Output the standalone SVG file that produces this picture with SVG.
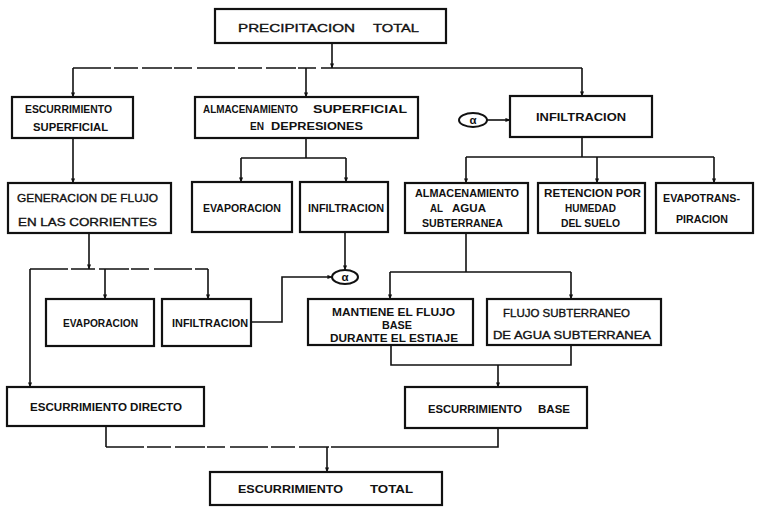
<svg xmlns="http://www.w3.org/2000/svg" width="766" height="507" viewBox="0 0 766 507">
<defs>
<style>
.bx{fill:#fff;stroke:#111;stroke-width:2.2}
.c{fill:none;stroke:#111;stroke-width:1.6}
.d{fill:none;stroke:#111;stroke-width:1.6;stroke-dasharray:38 3 24 4 30 2 18 5}
.a{marker-end:url(#ah)}
.t{font-family:"Liberation Sans",Arial,sans-serif;font-weight:bold;font-size:11.5px;fill:#111}
.n{font-weight:normal;stroke:#111;stroke-width:0.35}
.al{fill:#fff;stroke:#111;stroke-width:2}
</style>
<marker id="ah" viewBox="0 0 6 6" refX="5.5" refY="3" markerWidth="5" markerHeight="5" orient="auto" markerUnits="userSpaceOnUse">
<path d="M0,0.5 L6,3 L0,5.5 Z" fill="#111"/>
</marker>
</defs>
<rect width="766" height="507" fill="#fff"/>

<g id="connectors">
<path class="c a" d="M332,43 V68"/>
<path class="d" d="M73,68 H330"/>
<path class="c" d="M330,68 H582"/>
<path class="c a" d="M73,68 V97"/>
<path class="c a" d="M306,68 V97"/>
<path class="c a" d="M582,68 V96"/>
<path class="c a" d="M487,120 H510"/>
<path class="c a" d="M73,138 V183"/>
<path class="c" d="M306,138 V158 M241,158 H346"/>
<path class="c a" d="M241,158 V182"/>
<path class="c a" d="M346,158 V182"/>
<path class="c" d="M582,137 V157 M466,157 H714"/>
<path class="c a" d="M466,157 V183"/>
<path class="c a" d="M597,157 V183"/>
<path class="c a" d="M714,157 V183"/>
<path class="c a" d="M89,233 V269"/>
<path class="d" d="M30,269 H208"/>
<path class="c a" d="M30,269 V387"/>
<path class="c a" d="M105,269 V299"/>
<path class="c a" d="M208,269 V299"/>
<path class="c a" d="M345,232 V270"/>
<path class="c a" d="M251,322 H282 V277 H332"/>
<path class="c" d="M466,233 V272 M390,272 H571"/>
<path class="c a" d="M390,272 V299"/>
<path class="c a" d="M571,272 V299"/>
<path class="c" d="M391,345 V365 H571 V345"/>
<path class="c a" d="M498,365 V387"/>
<path class="c" d="M498,428 V447 H340"/>
<path class="d" d="M106,447 H340"/>
<path class="c" d="M106,426 V447"/>
<path class="c a" d="M327,447 V472"/>
</g>

<g id="precipitacion-total">
<rect class="bx" x="215" y="9" width="231" height="34"/>
<text class="t n" x="238" y="32" font-size="15" textLength="117" lengthAdjust="spacingAndGlyphs">PRECIPITACION</text>
<text class="t n" x="373" y="32" font-size="15" textLength="46" lengthAdjust="spacingAndGlyphs">TOTAL</text>
</g>

<g id="escurrimiento-superficial">
<rect class="bx" x="12" y="97" width="121" height="41"/>
<text class="t" x="25" y="113" textLength="87" lengthAdjust="spacingAndGlyphs">ESCURRIMIENTO</text>
<text class="t" x="33" y="131" textLength="75" lengthAdjust="spacingAndGlyphs">SUPERFICIAL</text>
</g>

<g id="almacenamiento-superficial">
<rect class="bx" x="195" y="97" width="223" height="41"/>
<text class="t" x="203" y="113" textLength="95" lengthAdjust="spacingAndGlyphs">ALMACENAMIENTO</text>
<text class="t" x="313" y="113" textLength="94" lengthAdjust="spacingAndGlyphs">SUPERFICIAL</text>
<text class="t" x="250" y="130" textLength="14" lengthAdjust="spacingAndGlyphs">EN</text>
<text class="t" x="271" y="130" textLength="92" lengthAdjust="spacingAndGlyphs">DEPRESIONES</text>
</g>

<g id="infiltracion-total">
<rect class="bx" x="510" y="96" width="142" height="41"/>
<text class="t" x="536" y="121" textLength="90" lengthAdjust="spacingAndGlyphs">INFILTRACION</text>
</g>

<g id="alfa-1">
<ellipse class="al" cx="473" cy="120" rx="14" ry="7"/>
<text class="t" x="473" y="124" text-anchor="middle" font-size="12">α</text>
</g>

<g id="generacion-flujo">
<rect class="bx" x="8" y="183" width="163" height="50"/>
<text class="t n" x="17" y="202" font-size="12.5" textLength="141" lengthAdjust="spacingAndGlyphs">GENERACION DE FLUJO</text>
<text class="t n" x="18" y="226" font-size="12.5" textLength="139" lengthAdjust="spacingAndGlyphs">EN LAS CORRIENTES</text>
</g>

<g id="evaporacion-1">
<rect class="bx" x="192" y="182" width="100" height="50"/>
<text class="t" x="203" y="212" textLength="78" lengthAdjust="spacingAndGlyphs">EVAPORACION</text>
</g>

<g id="infiltracion-1">
<rect class="bx" x="300" y="182" width="88" height="50"/>
<text class="t" x="308" y="212" textLength="76" lengthAdjust="spacingAndGlyphs">INFILTRACION</text>
</g>

<g id="almacenamiento-agua">
<rect class="bx" x="405" y="183" width="123" height="50"/>
<text class="t" x="415" y="197" textLength="104" lengthAdjust="spacingAndGlyphs">ALMACENAMIENTO</text>
<text class="t" x="430" y="212" textLength="13" lengthAdjust="spacingAndGlyphs">AL</text>
<text class="t" x="452" y="212" textLength="34" lengthAdjust="spacingAndGlyphs">AGUA</text>
<text class="t" x="422" y="227" textLength="81" lengthAdjust="spacingAndGlyphs">SUBTERRANEA</text>
</g>

<g id="retencion">
<rect class="bx" x="538" y="183" width="107" height="50"/>
<text class="t" x="544" y="197" textLength="97" lengthAdjust="spacingAndGlyphs">RETENCION POR</text>
<text class="t" x="565" y="212" textLength="51" lengthAdjust="spacingAndGlyphs">HUMEDAD</text>
<text class="t" x="561" y="227" textLength="59" lengthAdjust="spacingAndGlyphs">DEL SUELO</text>
</g>

<g id="evapotranspiracion">
<rect class="bx" x="656" y="183" width="97" height="50"/>
<text class="t" x="663" y="202" textLength="77" lengthAdjust="spacingAndGlyphs">EVAPOTRANS-</text>
<text class="t" x="676" y="223" textLength="52" lengthAdjust="spacingAndGlyphs">PIRACION</text>
</g>

<g id="alfa-2">
<ellipse class="al" cx="345" cy="277" rx="13" ry="7"/>
<text class="t" x="345" y="281" text-anchor="middle" font-size="12">α</text>
</g>

<g id="evaporacion-2">
<rect class="bx" x="46" y="299" width="108" height="47"/>
<text class="t" x="63" y="327" textLength="75" lengthAdjust="spacingAndGlyphs">EVAPORACION</text>
</g>

<g id="infiltracion-2">
<rect class="bx" x="162" y="299" width="89" height="47"/>
<text class="t" x="172" y="327" textLength="76" lengthAdjust="spacingAndGlyphs">INFILTRACION</text>
</g>

<g id="mantiene-flujo-base">
<rect class="bx" x="308" y="299" width="165" height="46"/>
<text class="t" x="332" y="316" textLength="123" lengthAdjust="spacingAndGlyphs">MANTIENE EL FLUJO</text>
<text class="t" x="382" y="329" textLength="30" lengthAdjust="spacingAndGlyphs">BASE</text>
<text class="t" x="330" y="342" textLength="128" lengthAdjust="spacingAndGlyphs">DURANTE EL ESTIAJE</text>
</g>

<g id="flujo-subterraneo">
<rect class="bx" x="487" y="299" width="174" height="46"/>
<text class="t n" x="503" y="317" font-size="12.5" textLength="127" lengthAdjust="spacingAndGlyphs">FLUJO SUBTERRANEO</text>
<text class="t n" x="493" y="339" font-size="12.5" textLength="158" lengthAdjust="spacingAndGlyphs">DE AGUA SUBTERRANEA</text>
</g>

<g id="escurrimiento-directo">
<rect class="bx" x="7" y="387" width="197" height="39"/>
<text class="t" x="30" y="411" font-size="12" textLength="152" lengthAdjust="spacingAndGlyphs">ESCURRIMIENTO DIRECTO</text>
</g>

<g id="escurrimiento-base">
<rect class="bx" x="405" y="387" width="182" height="41"/>
<text class="t" x="428" y="413" font-size="12" textLength="94" lengthAdjust="spacingAndGlyphs">ESCURRIMIENTO</text>
<text class="t" x="538" y="413" font-size="12" textLength="32" lengthAdjust="spacingAndGlyphs">BASE</text>
</g>

<g id="escurrimiento-total">
<rect class="bx" x="210" y="472" width="232" height="33"/>
<text class="t" x="238" y="493" font-size="12" textLength="105" lengthAdjust="spacingAndGlyphs">ESCURRIMIENTO</text>
<text class="t" x="370" y="493" font-size="12" textLength="43" lengthAdjust="spacingAndGlyphs">TOTAL</text>
</g>
</svg>
